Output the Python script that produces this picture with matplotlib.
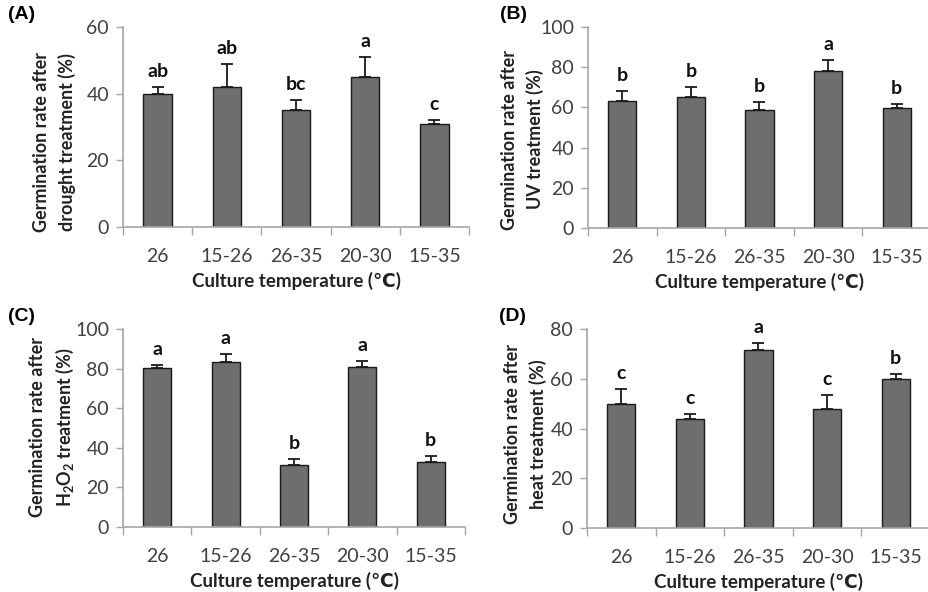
import matplotlib.pyplot as plt

plt.rcParams['font.family'] = ['Lato', 'DejaVu Sans']
plt.rcParams['mathtext.fontset'] = 'custom'
plt.rcParams['mathtext.rm'] = 'Lato'
plt.rcParams['mathtext.bf'] = 'Lato:bold'

temps = ['26', '15-26', '26-35', '20-30', '15-35']

drought = [40, 42, 35, 45, 31]
drought_err = [2, 7, 3, 6, 1]
drought_sig = ['ab', 'ab', 'bc', 'a', 'c']

uv = [63, 65, 58.5, 78, 59.5]
uv_err = [5, 5, 4, 5.5, 2]
uv_sig = ['b', 'b', 'b', 'a', 'b']

h2o2 = [80.5, 83.5, 31.5, 81, 33]
h2o2_err = [1.5, 4, 3, 3, 3]
h2o2_sig = ['a', 'a', 'b', 'a', 'b']

heat = [50, 44, 71.5, 48, 60]
heat_err = [6, 2, 3, 5.5, 2]
heat_sig = ['c', 'c', 'a', 'c', 'b']

# tag, values, errors, letters, ylabel, ymax, axes rect (px), ylabel coords, tag x (px)
panels = [
    ('(A)', drought, drought_err, drought_sig, 'Germination rate after\ndrought treatment (%)', 60,
     (123, 27, 346, 200), (-0.136, 0.425), 8),
    ('(B)', uv, uv_err, uv_sig, 'Germination rate after\nUV treatment (%)', 100,
     (588, 27, 343, 201), (-0.128, 0.44), 500),
    ('(C)', h2o2, h2o2_err, h2o2_sig,
     'Germination rate after\nH$_\\mathbf{2}$O$_\\mathbf{2}$ treatment (%)', 100,
     (123, 329, 342, 198), (-0.137, 0.505), 8),
    ('(D)', heat, heat_err, heat_sig, 'Germination rate after\nheat treatment (%)', 80,
     (587, 329, 343, 199), (-0.117, 0.47), 499),
]

W, H = 929, 592
fig = plt.figure(figsize=(9.29, 5.92), dpi=100)
axis_grey = '#a6a6a6'
text_grey = '#404040'

for tag, vals, errs, sig, ylab, ymax, (l, t, w, h), lab_xy, tag_x in panels:
    ax = fig.add_axes([l / W, 1 - (t + h) / H, w / W, h / H])
    x = [i + 0.5 for i in range(len(temps))]
    ax.bar(x, vals, width=0.41, color='#6e6e6e', edgecolor='#1a1a1a', linewidth=1.0, zorder=2)
    ax.errorbar(x, vals, yerr=[[0] * len(errs), errs], fmt='none', ecolor='#1a1a1a',
                elinewidth=1.3, capsize=4, capthick=1.3, zorder=3)
    for xi, v, e, s in zip(x, vals, errs, sig):
        ax.annotate(s, (xi, v + e), xytext=(0, 5), textcoords='offset points',
                    ha='center', va='bottom', fontsize=14, fontweight='bold', color='#111111')
    ax.set_xlim(0, 5)
    ax.set_ylim(0, ymax)
    ax.set_yticks(range(0, ymax + 1, 20))
    ax.set_xticks(range(6))
    ax.set_xticklabels([])
    ax.set_xticks(x, minor=True)
    ax.set_xticklabels(temps, minor=True)
    ax.tick_params(axis='x', which='major', length=6, width=1, color=axis_grey, direction='out')
    ax.tick_params(axis='x', which='minor', length=0, pad=15, labelsize=14, labelcolor=text_grey)
    ax.tick_params(axis='y', length=5, width=1, color=axis_grey, labelsize=14, labelcolor=text_grey, pad=5)
    for side in ['top', 'right']:
        ax.spines[side].set_visible(False)
    for side in ['left', 'bottom']:
        ax.spines[side].set_color(axis_grey)
        ax.spines[side].set_linewidth(1.2)
    ax.set_xlabel('Culture temperature (\u2103)', fontsize=13.5, fontweight='bold', color='#222222', labelpad=5)
    ax.set_ylabel(ylab, fontsize=13, fontweight='bold', color='#222222', linespacing=1.5)
    ax.yaxis.set_label_coords(*lab_xy)
    fig.text(tag_x / W, 1 - (t - 4) / H, tag, fontsize=14, fontweight='bold',
             family='Liberation Sans', va='bottom', ha='left')

fig.savefig('out.png', dpi=100)
